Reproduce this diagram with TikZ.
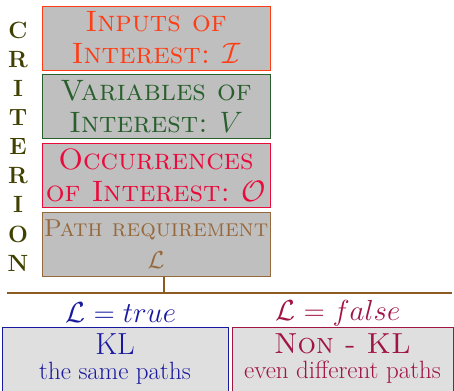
\documentclass[tikz,border=0pt]{standalone}
\usepackage{fix-cm}
\usepackage{xcolor}
\usepackage{tikz}
\usepackage{amsmath}
\usetikzlibrary{positioning}

\definecolor{inputcol}{RGB}{255,60,20}
\definecolor{varcol}{RGB}{40,95,45}
\definecolor{occcol}{RGB}{235,10,60}
\definecolor{pathcol}{RGB}{150,105,60}
\definecolor{linecol}{RGB}{140,90,35}
\definecolor{klcol}{RGB}{25,25,160}
\definecolor{nonklcol}{RGB}{160,20,70}
\definecolor{critcol}{RGB}{64,64,0}

\begin{document}
\begin{tikzpicture}[
                x=1pt, y=1pt,
                node distance=4pt,
                critbox/.style={
                        draw,
                        fill=gray!50,
                        line width=0.8pt,
                        minimum width=228pt,
                        minimum height=64pt,
                        inner sep=1pt,
                        align=center,
                        font=\fontsize{29.5}{32}\selectfont
                    },
                resbox/.style={
                        draw,
                        fill=gray!25,
                        line width=0.8pt,
                        inner xsep=2pt,
                        inner ysep=6.5pt,
                        text depth=15pt,
                        anchor=north,
                        align=center,
                        font=\fontsize{25}{25}\selectfont
                    },
                cond/.style={
                        font=\fontsize{29}{30}\selectfont
                    }
            ]

            \useasboundingbox (0,0) rectangle (454,-390);

            % criterion column
            \node (crit) [text=critcol, align=center, inner sep=0pt,
                font=\fontsize{23.5}{29.1}\selectfont\bfseries] at (18,-146.5)
                {C\\R\\I\\T\\E\\R\\I\\O\\N};

            \node (inp) [critbox, draw=inputcol, text=inputcol] at (156,-38)
                {\textsc{Inputs of}\\\textsc{Interest:} $\mathcal{I}$};
            \node (var) [critbox, draw=varcol, text=varcol, below=of inp]
                {\textsc{Variables of}\\\textsc{Interest:} $V$};
            \node (occ) [critbox, draw=occcol, text=occcol, below=of var]
                {\textsc{Occurrences}\\\textsc{of Interest:} $\mathcal{O}$};
            \node (path) [critbox, draw=pathcol, text=pathcol, below=of occ,
                font=\fontsize{24.5}{32}\selectfont]
                {\textsc{Path requirement}\\$\mathcal{L}$};

            % split line
            \coordinate (split) at (164,-293);
            \coordinate (left) at (7,-293);
            \coordinate (right) at (452,-293);
            \draw[linecol, line width=1.6pt] (path.south -| split) -- (split);
            \draw[linecol, line width=1.6pt] (left) -- (right);

            \node (true) [cond, text=klcol] at (121,-313) {$\mathcal{L} = true$};
            \node (false) [cond, text=nonklcol] at (338,-313) {$\mathcal{L} = false$};

            \node (kl) [resbox, draw=klcol, text=klcol, minimum width=226pt] at (115,-327)
                {{\fontsize{30.5}{32}\selectfont KL}\\the same paths};
            \node (nonkl) [resbox, draw=nonklcol, text=nonklcol, minimum width=221pt] at (342.5,-327)
                {{\fontsize{29}{32}\selectfont\textsc{Non - KL}}\\even different paths};

        \end{tikzpicture}
\end{document}
